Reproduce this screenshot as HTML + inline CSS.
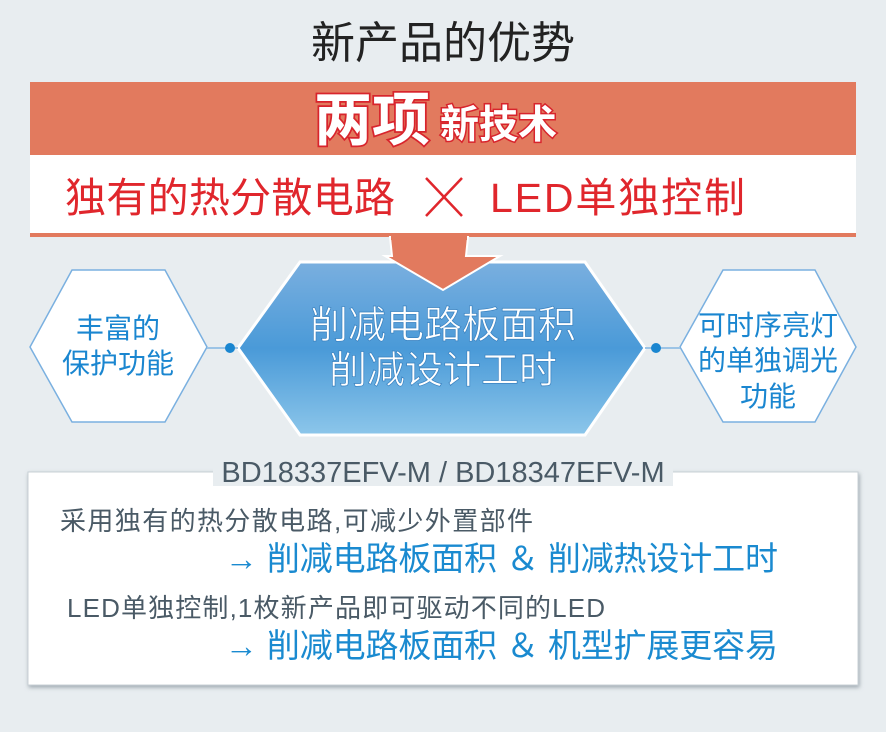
<!DOCTYPE html>
<html><head><meta charset="utf-8"><style>
html,body{margin:0;padding:0;background:#e8edf0;}
svg{display:block;}
text{font-family:"Liberation Sans","Noto Sans CJK SC",sans-serif;}
</style></head><body>
<svg width="886" height="732" viewBox="0 0 886 732" xmlns="http://www.w3.org/2000/svg">
<defs>
<linearGradient id="bl" x1="0" y1="0" x2="0" y2="1">
<stop offset="0" stop-color="#7aafdf"/><stop offset="0.5" stop-color="#4a9ad8"/><stop offset="1" stop-color="#8cc6ea"/>
</linearGradient>
<filter id="sh" x="-5%" y="-5%" width="110%" height="115%"><feDropShadow dx="1" dy="2" stdDeviation="2" flood-color="#8a969e" flood-opacity="0.8"/></filter>
</defs>
<rect width="886" height="732" fill="#e8edf0"/>
<text x="443" y="58" font-size="44" fill="#222" text-anchor="middle">新产品的优势</text>
<rect x="30" y="82" width="826" height="73" fill="#e27a5e"/>
<text x="314" y="140" font-size="58" font-weight="bold" fill="#fff" stroke="#d8242c" stroke-width="3.5" paint-order="stroke">两项</text>
<text x="440" y="138" font-size="39" font-weight="bold" fill="#fff" stroke="#d8242c" stroke-width="3" paint-order="stroke">新技术</text>
<rect x="30" y="155" width="826" height="78" fill="#fff"/>
<rect x="30" y="233" width="826" height="4" fill="#e27a5e"/>
<text x="65" y="212" font-size="41" fill="#e0262c" textLength="330">独有的热分散电路</text>
<line x1="426" y1="178" x2="462" y2="216" stroke="#e0262c" stroke-width="2.5"/>
<line x1="462" y1="178" x2="426" y2="216" stroke="#e0262c" stroke-width="2.5"/>
<text x="490" y="212" font-size="41" fill="#e0262c" textLength="255">LED单独控制</text>
<polygon points="300,262 585,262 645,348 585,435 300,435 238,348" fill="url(#bl)" stroke="#fff" stroke-width="3"/>
<polygon points="390,237 468,237 466,256 500,256 443,290 385,256 392,256" fill="#e27a5e" stroke="#fff" stroke-width="2"/>
<rect x="391" y="236" width="76" height="4" fill="#e27a5e"/>
<text x="443" y="338" font-size="38" fill="#fff" text-anchor="middle" stroke="#3a82c0" stroke-width="0.7">削减电路板面积</text>
<text x="443" y="383" font-size="38" fill="#fff" text-anchor="middle" stroke="#3a82c0" stroke-width="0.7">削减设计工时</text>
<polygon points="72,270 165,270 207,347 165,422 72,422 30,347" fill="#fff" stroke="#7ab0e0" stroke-width="1.5"/>
<polygon points="723,270 815,270 856,347 815,422 723,422 680,347" fill="#fff" stroke="#7ab0e0" stroke-width="1.5"/>
<line x1="207" y1="348" x2="238" y2="348" stroke="#9cc4e6" stroke-width="2"/>
<line x1="645" y1="348" x2="680" y2="348" stroke="#9cc4e6" stroke-width="2"/>
<circle cx="230" cy="348" r="5" fill="#1a86d0"/>
<circle cx="656" cy="348" r="5" fill="#1a86d0"/>
<text x="118" y="338" font-size="28" fill="#1a86d0" text-anchor="middle">丰富的</text>
<text x="118" y="373" font-size="28" fill="#1a86d0" text-anchor="middle">保护功能</text>
<text x="768" y="335" font-size="28" fill="#1a86d0" text-anchor="middle">可时序亮灯</text>
<text x="768" y="370" font-size="28" fill="#1a86d0" text-anchor="middle">的单独调光</text>
<text x="768" y="406" font-size="28" fill="#1a86d0" text-anchor="middle">功能</text>
<rect x="28" y="472" width="830" height="213" fill="#fff" stroke="#c8d0d6" stroke-width="1" filter="url(#sh)"/>
<rect x="213" y="456" width="460" height="30" fill="#e8edf0"/>
<text x="443" y="482" font-size="29" fill="#4a5a66" text-anchor="middle">BD18337EFV-M / BD18347EFV-M</text>
<text x="60" y="530" font-size="26" fill="#4a5a66" textLength="473">采用独有的热分散电路,可减少外置部件</text>
<text x="225" y="570" font-size="33" fill="#1a8ad0" textLength="553">→ 削减电路板面积 ＆ 削减热设计工时</text>
<text x="67" y="617" font-size="26" fill="#4a5a66" textLength="538">LED单独控制,1枚新产品即可驱动不同的LED</text>
<text x="225" y="657" font-size="33" fill="#1a8ad0" textLength="553">→ 削减电路板面积 ＆ 机型扩展更容易</text>
</svg>
</body></html>
